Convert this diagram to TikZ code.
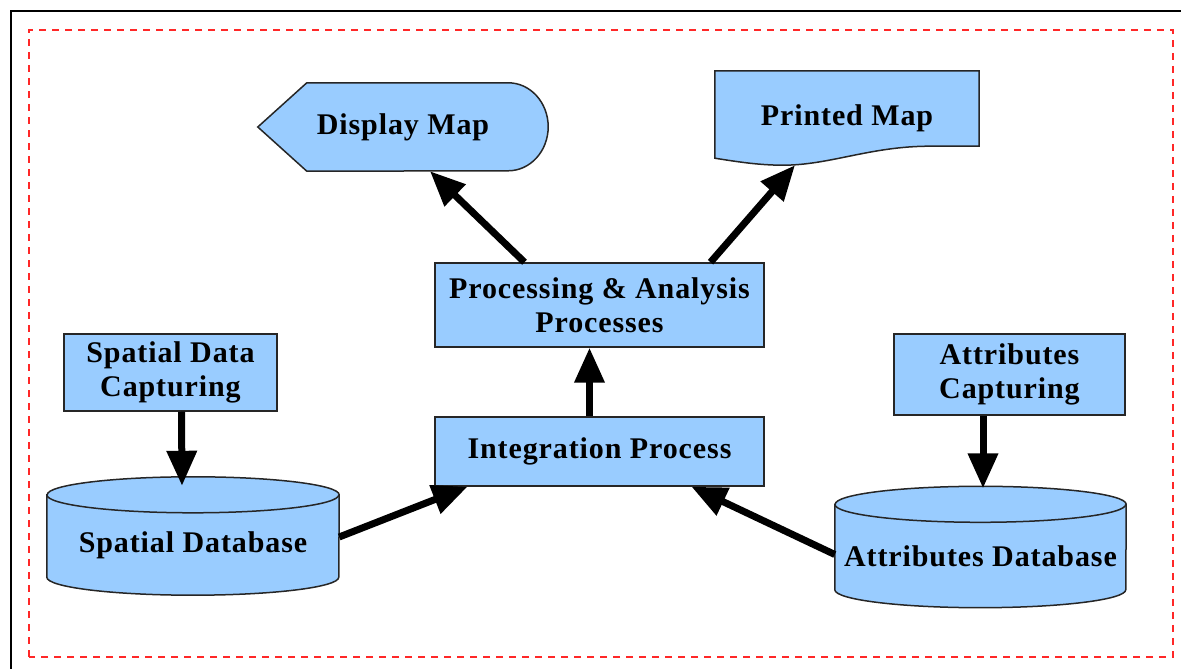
\documentclass[tikz,border=0pt]{standalone}
\usepackage{fontspec}
\setmainfont{Liberation Serif}[LetterSpace=3]
\usetikzlibrary{arrows.meta,backgrounds}
\definecolor{boxblue}{RGB}{153,204,255}
\definecolor{framered}{RGB}{255,40,40}

\begin{document}
\begin{tikzpicture}[x=1pt, y=1pt,
	box/.style={shape=rectangle, fill=boxblue, draw=black!85, line width=1.5pt, align=center, font=\fontsize{30}{34}\selectfont\bfseries},
	plain/.style={shape=rectangle, inner sep=0pt, align=center, font=\fontsize{30}{34}\selectfont\bfseries},
	shapeline/.style={fill=boxblue, draw=black!85, line width=1.5pt},
	flow/.style={line width=7pt, -{Triangle[length=35pt, width=29pt]}}]
			\useasboundingbox (0,0) rectangle (1181,669);
			% frame
			\draw[line width=2pt] (11,0) -- (11,658) -- (1181,658);
			\draw[framered, line width=2pt, dash pattern=on 7pt off 6pt] (29,12) rectangle (1173,639);
			% boxes
			\node[box, minimum width=329, minimum height=84] (proc) at (599.5,364) {Processing \& Analysis\\Processes};
			\node[box, minimum width=329, minimum height=69] (int) at (599.5,217.5) {Integration Process};
			\node[box, minimum width=213, minimum height=77] (spcap) at (170.5,296.5) {Spatial Data\\Capturing};
			\node[box, minimum width=231, minimum height=81] (attcap) at (1009.5,294.5) {Attributes\\Capturing};
			\node[plain, minimum width=290, minimum height=88] (disp) at (403,542) {Display Map};
			\node[plain, minimum width=264, minimum height=94] (prt) at (847,551) {Printed Map};
			\node[plain, minimum width=292, minimum height=100] (spdb) at (193,124) {Spatial Database};
			\node[plain, minimum width=291, minimum height=103] (attdb) at (980.5,113) {Attributes Database};
			% outlines behind the texts
			\begin{scope}[on background layer]
				\path[shapeline] (disp.west) -- ([xshift=49]disp.north west) -- ([xshift=-40]disp.north east) arc[start angle=90, end angle=-90, x radius=40, y radius=44] -- ([xshift=49]disp.south west) -- cycle;
				\path[shapeline] (prt.north west) -- (prt.north east) -- ([yshift=19]prt.south east) -- ++(-49,0) .. controls +(-60,0) and +(47,0) .. ([xshift=-64]prt.south) .. controls +(-23,0) and +(25,-4) .. ([yshift=7]prt.south west) -- cycle;
				\path[shapeline] (spdb.north west) -- ([yshift=18]spdb.south west) arc[start angle=180, end angle=360, x radius=146, y radius=18] -- (spdb.north east) arc[start angle=0, end angle=180, x radius=146, y radius=18] -- cycle;
				\draw[draw=black!85, line width=1.5pt] (spdb.north west) arc[start angle=180, end angle=360, x radius=146, y radius=18];
				\path[shapeline] (attdb.north west) -- ([yshift=18]attdb.south west) arc[start angle=180, end angle=360, x radius=145.5, y radius=18] -- (attdb.north east) arc[start angle=0, end angle=180, x radius=145.5, y radius=18] -- cycle;
				\draw[draw=black!85, line width=1.5pt] (attdb.north west) arc[start angle=180, end angle=360, x radius=145.5, y radius=18];
			\end{scope}
			% arrows
			\draw[flow] ([xshift=11]spcap.south) -- ([xshift=-11,yshift=9]spdb.north);
			\draw[flow] ([xshift=-26.5]attcap.south) -- ([xshift=2.5,yshift=16]attdb.north);
			\draw[flow] ([yshift=8]spdb.east) -- ([xshift=-132]int.south);
			\draw[flow] ([yshift=1.5]attdb.west) -- ([xshift=92]int.south);
			\draw[flow] ([xshift=-10]int.north) -- ([xshift=-10]proc.south);
			\draw[flow] ([xshift=-75]proc.north) -- ([xshift=27]disp.south);
			\draw[flow] ([xshift=111]proc.north) -- ([xshift=-52]prt.south);
		\end{tikzpicture}
\end{document}
